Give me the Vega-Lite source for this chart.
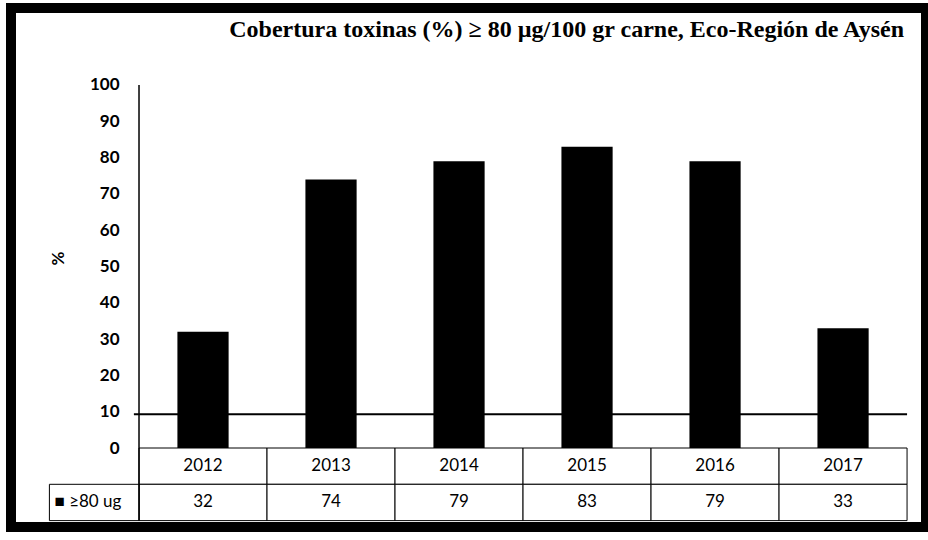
{
  "$schema": "https://vega.github.io/schema/vega-lite/v6.json",
  "autosize": {"type": "none"},
  "width": 915,
  "height": 519,
  "padding": {"left": 11, "top": 8, "right": 2, "bottom": 13},
  "background": "white",
  "config": {
    "view": {"stroke": "black", "strokeWidth": 10},
    "font": "Lato"
  },
  "title": {
    "text": "Cobertura toxinas (%) ≥ 80 µg/100 gr carne, Eco-Región de Aysén",
    "font": "Liberation Serif",
    "fontSize": 24,
    "fontWeight": "bold",
    "color": "black",
    "anchor": "end",
    "frame": "group",
    "dx": -22,
    "offset": -34
  },
  "datasets": {
    "d": [
      {"year": "2012", "value": 32},
      {"year": "2013", "value": 74},
      {"year": "2014", "value": 79},
      {"year": "2015", "value": 83},
      {"year": "2016", "value": 79},
      {"year": "2017", "value": 33}
    ],
    "lbl": [{"label": "■ ≥80 ug"}],
    "ref": [{"level": 9.3}]
  },
  "layer": [
    {
      "data": {"name": "d"},
      "mark": {"type": "rect", "fill": "white", "stroke": "black", "strokeWidth": 1},
      "encoding": {
        "x": {
          "field": "year", "type": "nominal", "axis": null,
          "scale": {"domain": ["label", "2012", "2013", "2014", "2015", "2016", "2017"], "paddingInner": 0, "paddingOuter": 0.074, "align": 0}
        },
        "y": {"datum": 0, "type": "quantitative"},
        "y2": {"datum": -10}
      }
    },
    {
      "data": {"name": "d"},
      "mark": {"type": "rect", "fill": "white", "stroke": "black", "strokeWidth": 1},
      "encoding": {
        "x": {"field": "year", "type": "nominal", "axis": null},
        "y": {"datum": -10, "type": "quantitative"},
        "y2": {"datum": -20}
      }
    },
    {
      "data": {"name": "lbl"},
      "mark": {"type": "rect", "fill": "white", "stroke": "black", "strokeWidth": 1},
      "encoding": {
        "x": {"datum": "label", "type": "nominal", "bandPosition": 0.3, "axis": null},
        "x2": {"datum": "2012", "bandPosition": 0},
        "y": {"datum": -10, "type": "quantitative"},
        "y2": {"datum": -20}
      }
    },
    {
      "data": {"name": "d"},
      "mark": {"type": "bar", "color": "black", "width": {"band": 0.4}},
      "encoding": {
        "x": {"field": "year", "type": "nominal", "axis": null},
        "y": {
          "field": "value", "type": "quantitative",
          "scale": {"domain": [-21.76, 121.21], "nice": false, "zero": false},
          "axis": {
            "title": "%",
            "values": [0, 10, 20, 30, 40, 50, 60, 70, 80, 90, 100],
            "offset": -128,
            "domain": false,
            "grid": false,
            "ticks": false,
            "tickSize": 0,
            "labelPadding": 20,
            "labelFont": "Lato",
            "labelFontSize": 17,
            "labelFontWeight": "bold",
            "labelColor": "black",
            "titleFont": "Lato",
            "titleFontSize": 17,
            "titleFontWeight": "bold",
            "titleColor": "black",
            "titlePadding": 22,
            "titleY": 250
          }
        }
      }
    },
    {
      "data": {"name": "ref"},
      "mark": {"type": "rule", "color": "black", "strokeWidth": 1.5},
      "encoding": {
        "x": {"datum": "2012", "type": "nominal", "bandPosition": 0, "axis": null},
        "y": {"datum": 100, "type": "quantitative"},
        "y2": {"datum": -20}
      }
    },
    {
      "data": {"name": "ref"},
      "mark": {"type": "rule", "color": "black", "strokeWidth": 2},
      "encoding": {
        "x": {"datum": "label", "type": "nominal", "bandPosition": 0.96, "axis": null},
        "x2": {"datum": "2017", "bandPosition": 1},
        "y": {"field": "level", "type": "quantitative"}
      }
    },
    {
      "data": {"name": "d"},
      "mark": {"type": "text", "font": "Lato", "fontSize": 17, "color": "black", "baseline": "middle"},
      "encoding": {
        "x": {"field": "year", "type": "nominal", "axis": null},
        "y": {"datum": -5, "type": "quantitative"},
        "text": {"field": "year"}
      }
    },
    {
      "data": {"name": "d"},
      "mark": {"type": "text", "font": "Lato", "fontSize": 17, "color": "black", "baseline": "middle"},
      "encoding": {
        "x": {"field": "year", "type": "nominal", "axis": null},
        "y": {"datum": -15, "type": "quantitative"},
        "text": {"field": "value", "type": "quantitative"}
      }
    },
    {
      "data": {"name": "lbl"},
      "mark": {"type": "text", "font": "Lato", "fontSize": 17, "color": "black", "baseline": "middle", "align": "left"},
      "encoding": {
        "x": {"datum": "label", "type": "nominal", "bandPosition": 0.34, "axis": null},
        "y": {"datum": -15, "type": "quantitative"},
        "text": {"field": "label"}
      }
    }
  ]
}
